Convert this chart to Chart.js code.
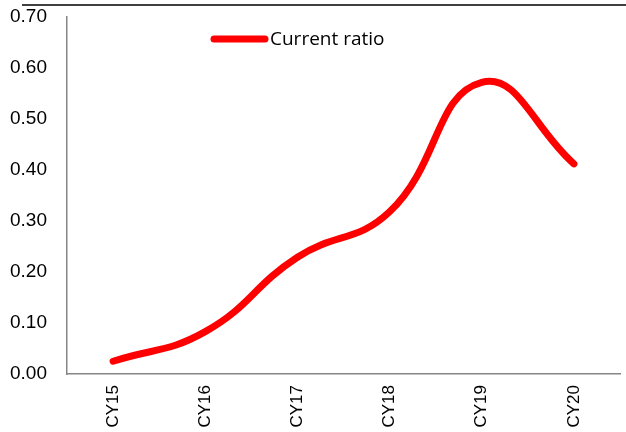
<!DOCTYPE html>
<html>
<head>
<meta charset="utf-8">
<script src="https://cdn.jsdelivr.net/npm/chart.js@4"></script>
<style>
  html, body { margin: 0; padding: 0; background: #fff; }
  #wrap { position: relative; width: 626px; height: 432px; }
</style>
</head>
<body>
<div id="wrap"><canvas id="ratioChart" width="626" height="432"></canvas></div>
<script>
const years = ['CY15', 'CY16', 'CY17', 'CY18', 'CY19', 'CY20'];
const currentRatio = [0.025, 0.083, 0.229, 0.318, 0.572, 0.412];
const seriesName = 'Current ratio';

// legend + thin black rule along the top edge
const decorations = {
    id: 'decorations',
    afterDraw(chart) {
        const ctx = chart.ctx;
        ctx.save();
        ctx.strokeStyle = '#000';
        ctx.lineWidth = 1.5;
        ctx.beginPath();
        ctx.moveTo(22, 5);
        ctx.lineTo(626, 5);
        ctx.stroke();

        ctx.strokeStyle = '#ff0000';
        ctx.lineWidth = 7;
        ctx.lineCap = 'round';
        ctx.beginPath();
        ctx.moveTo(214, 39);
        ctx.lineTo(265, 39);
        ctx.stroke();

        ctx.fillStyle = '#000';
        ctx.font = '19px "Open Sans"';
        ctx.textBaseline = 'middle';
        ctx.fillText(seriesName, 270, 40);
        ctx.restore();
    }
};

new Chart(document.getElementById('ratioChart'), {
    type: 'line',
    data: {
        labels: years,
        datasets: [{
            label: seriesName,
            data: currentRatio,
            borderColor: '#ff0000',
            borderWidth: 7,
            borderCapStyle: 'round',
            tension: 0.45,
            pointRadius: 0,
            fill: false
        }]
    },
    options: {
        responsive: false,
        animation: false,
        layout: { padding: { top: 17, right: 6, left: 0, bottom: 0 } },
        plugins: { legend: { display: false }, tooltip: { enabled: false } },
        scales: {
            x: {
                offset: true,
                grid: { display: false, drawTicks: false },
                border: { color: '#868686', width: 1.5 },
                ticks: {
                    color: '#000',
                    font: { family: 'Liberation Sans', size: 17 },
                    minRotation: 90,
                    maxRotation: 90,
                    padding: 11
                },
                afterFit: s => {
                    s.height = 58;
                    s.paddingLeft = 0;
                    s.paddingRight = 0;
                }
            },
            y: {
                min: 0,
                max: 0.7,
                grid: { display: false, drawTicks: false },
                border: { color: '#868686', width: 1.5 },
                ticks: {
                    stepSize: 0.1,
                    color: '#000',
                    font: { family: 'Liberation Sans', size: 19 },
                    padding: 20,
                    callback: v => v.toFixed(2)
                },
                afterFit: s => {
                    s.width = 67;
                    s.paddingTop = 0;
                    s.paddingBottom = 0;
                }
            }
        }
    },
    plugins: [decorations]
});
</script>
</body>
</html>
